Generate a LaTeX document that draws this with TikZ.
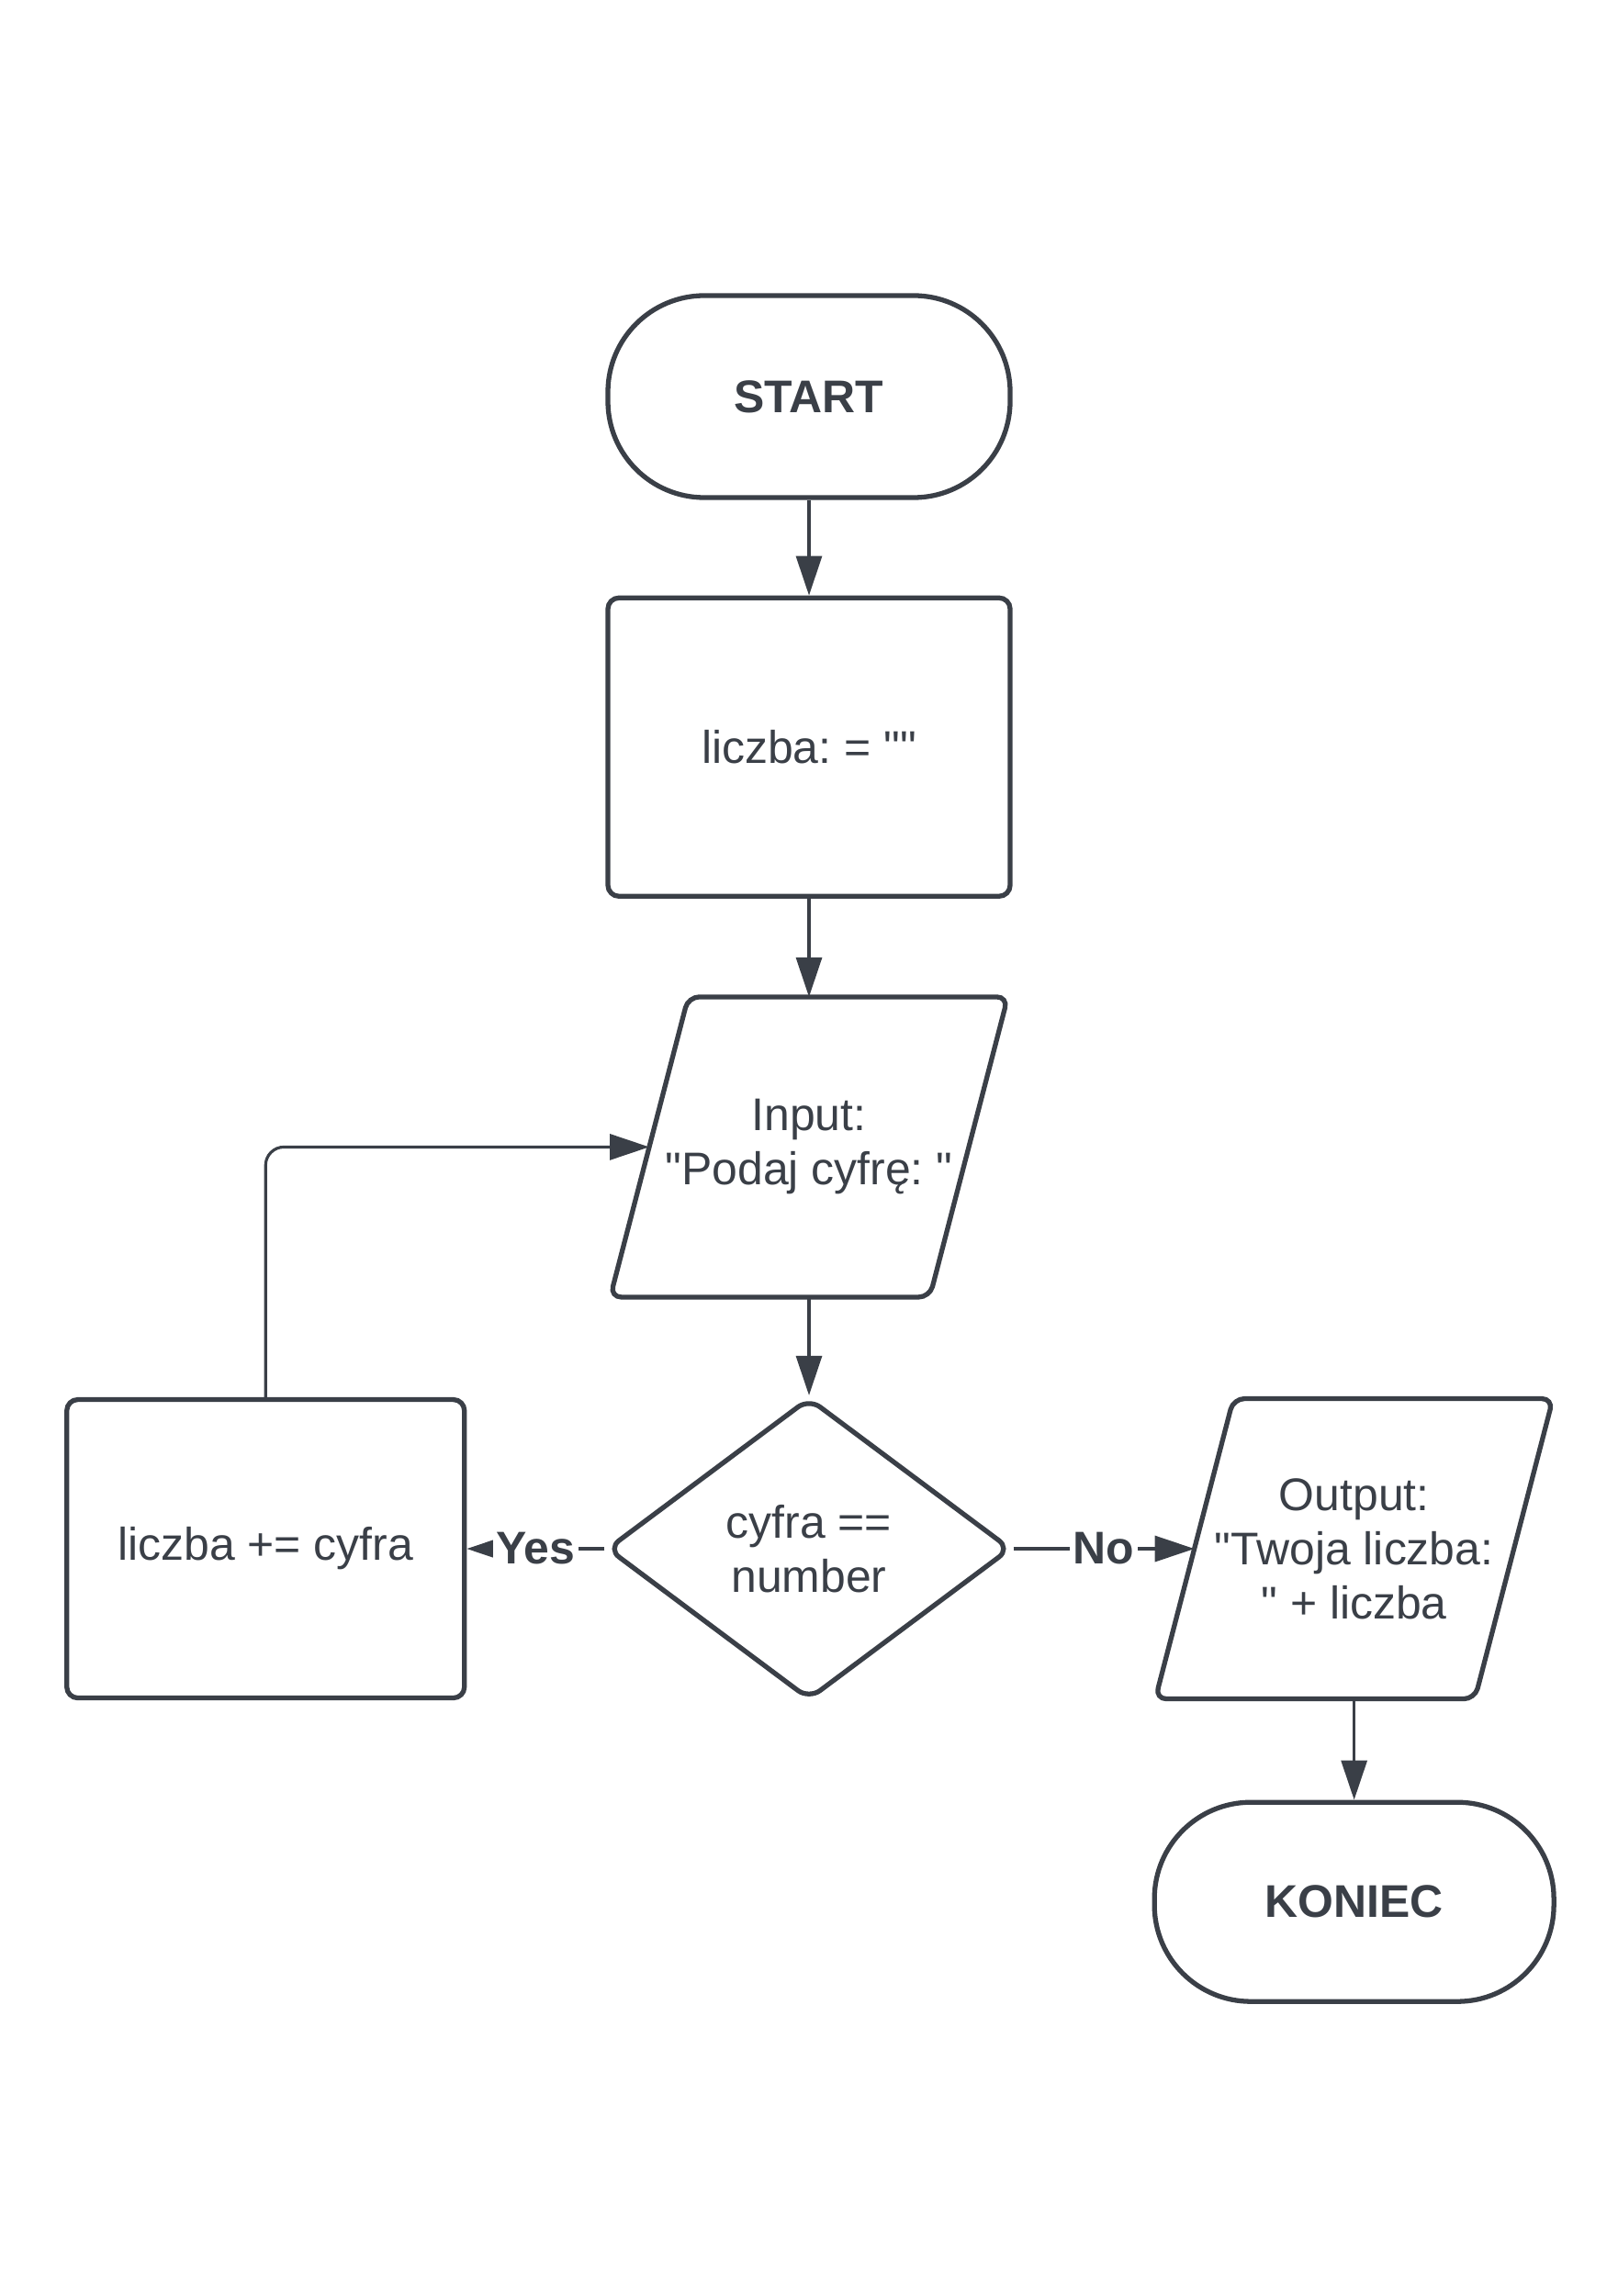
\documentclass[tikz,border=0pt]{standalone}
\usepackage{fontspec}
\setmainfont{Liberation Sans}[Ligatures=TeXOff]
\usetikzlibrary{arrows.meta, positioning, shapes.geometric}
\definecolor{ink}{HTML}{3A3F47}
\frenchspacing
% slanted frame round an io node
\newcommand{\ioframe}[1]{%
  \draw[frame] ([xshift=-4.25mm]#1.south west) -- ([xshift=4.25mm]#1.north west)
    -- ([xshift=4.25mm]#1.north east) -- ([xshift=-4.25mm]#1.south east) -- cycle;}

\begin{document}
\begin{tikzpicture}[
  >={Triangle[length=4.3mm, width=2.8mm]},
  color=ink, line width=0.9pt,
  font=\fontsize{14.2}{16.8}\selectfont,
  frame/.style = {line width=1.5pt, rounded corners=1.2mm},
  term/.style  = {draw, line width=1.5pt, rounded corners=1.05cm, minimum width=4.38cm, minimum height=2.2cm, font=\fontsize{14.2}{16.8}\selectfont\bfseries},
  block/.style = {draw, line width=1.5pt, rounded corners=1.2mm, minimum width=4.38cm, minimum height=3.25cm, align=center},
  io/.style    = {minimum width=3.48cm, minimum height=3.27cm, inner sep=0pt, outer sep=0pt, align=center},
  test/.style  = {draw, line width=1.5pt, rounded corners=1.5mm, diamond, inner sep=0pt, minimum width=4.4cm, minimum height=3.29cm, align=center},
  flow/.style  = {->, line width=0.9pt},
  tag/.style   = {fill=white, inner sep=1pt, font=\fontsize{14.2}{16.8}\selectfont\bfseries},
]
  \useasboundingbox (0,0) rectangle (17.62,-25.01);

%--- main column ---
  \node[term]                          (start)  at (8.81,-4.32) {START};
  \node[block, below=1.04cm of start]  (init)   {liczba: = ""};
  \node[io,    below=1.07cm of init]   (input)  {Input:\\"Podaj cyfrę: "};
  \node[test,  below=1.07cm of input]  (check)  {cyfra ==\\number};
  \ioframe{input}

%--- branches ---
  \node[block, left=1.5cm of check, minimum width=4.33cm] (add) {liczba += cyfra};
  \node[io,    right=1.97cm of check]  (output) {Output:\\"Twoja liczba:\\" + liczba};
  \ioframe{output}
  \node[term,  below=1.1cm of output, minimum width=4.35cm, minimum height=2.17cm]
                                        (stop)   {KONIEC};

  \draw[flow] (start) -- (init);
  \draw[flow] (init)  -- (input);
  \draw[flow] (input) -- (check);
  \draw[flow] (check) -- node[tag]{Yes} (add);
  \draw[flow] (check) -- node[tag]{No}  (output);
  \draw[flow] (output) -- (stop);
  \draw[flow, rounded corners=2mm] (add.north) |- (input.west);
\end{tikzpicture}
\end{document}
